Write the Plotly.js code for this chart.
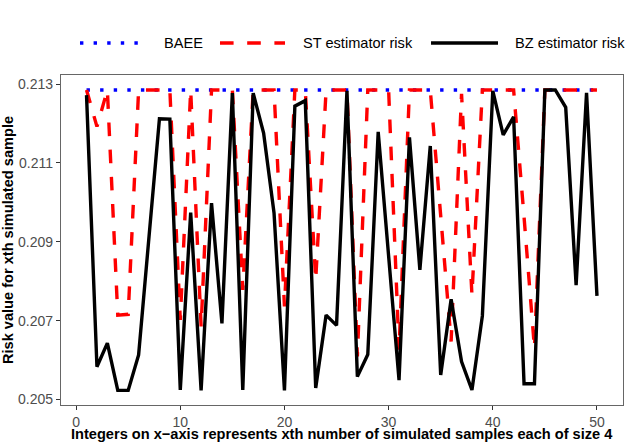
<!DOCTYPE html>
<html>
<head>
<meta charset="utf-8">
<script src="https://cdn.plot.ly/plotly-3.0.1.min.js"></script>
<style>
  html, body { margin: 0; padding: 0; background: #fff; }
  #plot { width: 627px; height: 443px; }
</style>
</head>
<body>
<div id="plot"></div>
<script>
"use strict";
// sample index 1..50
var sampleNo = [1, 2, 3, 4, 5, 6, 7, 8, 9, 10,
    11, 12, 13, 14, 15, 16, 17, 18, 19, 20,
    21, 22, 23, 24, 25, 26, 27, 28, 29, 30,
    31, 32, 33, 34, 35, 36, 37, 38, 39, 40,
    41, 42, 43, 44, 45, 46, 47, 48, 49, 50];

var baeeRisk = [0.21285, 0.21285, 0.21285, 0.21285, 0.21285, 0.21285, 0.21285, 0.21285, 0.21285, 0.21285,
    0.21285, 0.21285, 0.21285, 0.21285, 0.21285, 0.21285, 0.21285, 0.21285, 0.21285, 0.21285,
    0.21285, 0.21285, 0.21285, 0.21285, 0.21285, 0.21285, 0.21285, 0.21285, 0.21285, 0.21285,
    0.21285, 0.21285, 0.21285, 0.21285, 0.21285, 0.21285, 0.21285, 0.21285, 0.21285, 0.21285,
    0.21285, 0.21285, 0.21285, 0.21285, 0.21285, 0.21285, 0.21285, 0.21285, 0.21285, 0.21285];

var stRisk = [0.21285, 0.21192, 0.21285, 0.20714, 0.20716, 0.21285, 0.21285, 0.21285, 0.21285, 0.20702,
    0.21285, 0.20685, 0.21285, 0.21285, 0.21285, 0.20778, 0.21285, 0.21285, 0.21285, 0.20736,
    0.21285, 0.21285, 0.20803, 0.21285, 0.21285, 0.21285, 0.20609, 0.21285, 0.21285, 0.21285,
    0.20626, 0.21285, 0.21285, 0.21285, 0.20966, 0.20647, 0.21275, 0.20765, 0.21285, 0.21285,
    0.21285, 0.21285, 0.20963, 0.20630, 0.21285, 0.21285, 0.21285, 0.21285, 0.21285, 0.21285];

var bzRisk = [0.21272, 0.20583, 0.20643, 0.20523, 0.20523, 0.20613, 0.20913, 0.21212, 0.21211, 0.20524,
    0.20974, 0.20523, 0.20998, 0.20693, 0.21277, 0.20524, 0.21277, 0.21176, 0.20973, 0.20523,
    0.21244, 0.21258, 0.20529, 0.20714, 0.20688, 0.21283, 0.20558, 0.20614, 0.21179, 0.20862,
    0.20549, 0.21165, 0.20829, 0.21143, 0.20562, 0.20754, 0.20596, 0.20524, 0.20712, 0.21283,
    0.21171, 0.21217, 0.20540, 0.20540, 0.21285, 0.21285, 0.21241, 0.20790, 0.21278, 0.20763];

var yTicks = [0.205, 0.207, 0.209, 0.211, 0.213];
var xTicks = [0, 10, 20, 30, 40, 50];

var seriesNames = ["BAEE", "ST estimator risk", "BZ estimator risk"];
var seriesColors = ["#0000ff", "#ff0000", "#000000"];
var seriesDash = ["3.4px,10.2px", "13.6px,13.6px", "solid"];

var FONT = "Liberation Sans, Arial, sans-serif";
var lw = 3.4;
var ys = [baeeRisk, stRisk, bzRisk];

var data = ys.map(function (y, i) {
    return {
        x: sampleNo, y: y, name: seriesNames[i], type: "scatter", mode: "lines",
        showlegend: false,
        line: {color: seriesColors[i], width: lw, dash: seriesDash[i]}
    };
});

// legend drawn by hand above the panel (ggplot style: longer keys)
var legY = 1.097;
var keyX = [[0.0338, 0.1512], [0.2829, 0.3986], [0.6584, 0.7776]];
var labX = [0.1800, 0.4270, 0.8040];
var shapes = [];
var annotations = [];
for (var i = 0; i < seriesNames.length; i++) {
    shapes.push({
        type: "line", xref: "paper", yref: "paper",
        x0: keyX[i][0], x1: keyX[i][1], y0: legY, y1: legY,
        line: {color: seriesColors[i], width: lw, dash: seriesDash[i]}
    });
    annotations.push({
        xref: "paper", yref: "paper", x: labX[i], y: legY,
        xanchor: "left", yanchor: "middle", showarrow: false,
        text: seriesNames[i],
        font: {family: FONT, size: 14.6, color: "#000000"}
    });
}
// x axis title
annotations.push({
    xref: "paper", yref: "paper", x: 0.5, y: -0.1152,
    xanchor: "center", yanchor: "bottom", showarrow: false, borderpad: 0,
    text: "<b>Integers on x\u2212axis represents xth number of simulated samples each of size 4</b>",
    font: {family: FONT, size: 14.6, color: "#000000"}
});

var axisFont = {family: FONT, size: 14, color: "#4d4d4d"};

var layout = {
    width: 627,
    height: 443,
    margin: {l: 61, r: 4, t: 75, b: 38},
    paper_bgcolor: "#ffffff",
    plot_bgcolor: "#ffffff",
    font: {family: FONT},
    showlegend: false,
    shapes: shapes,
    annotations: annotations,
    xaxis: {
        range: [-1.45, 52.5],
        tickvals: xTicks,
        ticktext: xTicks.map(String),
        showgrid: false, zeroline: false,
        showline: true, mirror: true, linecolor: "#666666", linewidth: 1.2,
        ticks: "outside", ticklen: 3.5, tickcolor: "#333333", tickwidth: 1,
        tickfont: axisFont,
        automargin: false
    },
    yaxis: {
        range: [0.20486, 0.21323],
        tickvals: yTicks,
        ticktext: yTicks.map(function (v) { return v.toFixed(3); }),
        showgrid: false, zeroline: false,
        showline: true, mirror: true, linecolor: "#666666", linewidth: 1.2,
        ticks: "outside", ticklen: 4, tickcolor: "#333333", tickwidth: 1,
        tickfont: axisFont,
        title: {text: "Risk value for xth simulated sample",
            font: {family: FONT, size: 14.6, color: "#000000", weight: "bold"}, standoff: 3},
        automargin: false
    }
};

Plotly.newPlot("plot", data, layout, {staticPlot: true, displayModeBar: false});
</script>
</body>
</html>
